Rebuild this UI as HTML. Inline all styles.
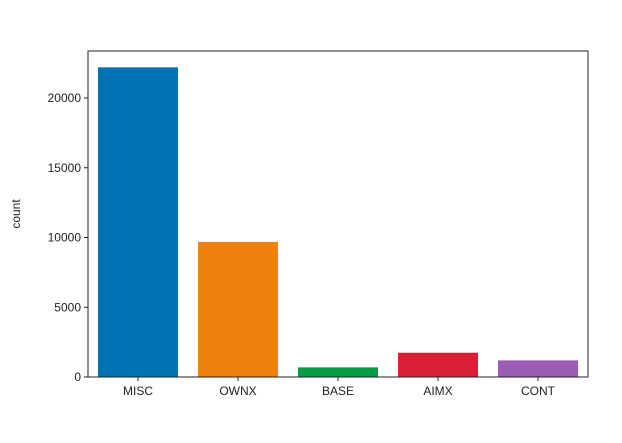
<!DOCTYPE html>
<html><head><meta charset="utf-8"><style>
body{margin:0;background:#fff;width:622px;height:438px;overflow:hidden}
text{font-family:"Liberation Sans",sans-serif;font-size:12px;fill:#222}
</style></head><body>
<svg id="chart" width="622" height="438" xmlns="http://www.w3.org/2000/svg"></svg>
<script>
const categories=["MISC","OWNX","BASE","AIMX","CONT"];
const counts=[22200,9680,690,1740,1190];
const colors=["#0072b2","#f0800f","#009e45","#d81f36","#9a5cb4"];
const yTicks=[0,5000,10000,15000,20000];
const svg=document.getElementById('chart');
const NS="http://www.w3.org/2000/svg";
const L=88,R=588,T=51,B=377;
const y=v=>B-v*(B-T)/23370;
const band=(R-L)/categories.length;
const x=i=>L+i*band;
function mk(t,a){const e=document.createElementNS(NS,t);for(const k in a)e.setAttribute(k,a[k]);svg.appendChild(e);return e;}
categories.forEach((c,i)=>{
 const b=mk('rect',{x:x(i)+10,y:y(counts[i]),width:band-20,height:B-y(counts[i]),fill:colors[i]});
 
 
 const tk=mk('line',{x1:x(i)+band/2,x2:x(i)+band/2,y1:B,y2:B+4,stroke:'#222'});
 
 
 const t=mk('text',{x:x(i)+band/2,y:B+18,'text-anchor':'middle'});t.textContent=c;
 
 
});
yTicks.forEach(v=>{
 const tk=mk('line',{x1:L-4,x2:L,y1:y(v),y2:y(v),stroke:'#222'});
 
 
 const t=mk('text',{x:L-7,y:y(v)+4,'text-anchor':'end'});t.textContent=v;
 
 
});
const fr=mk('rect',{x:L,y:T,width:R-L,height:B-T,fill:'none',stroke:'#222','stroke-width':1});


const yl=mk('text',{x:0,y:0,transform:`translate(20,${(T+B)/2}) rotate(-90)`,'text-anchor':'middle'});
yl.textContent='count';


</script>
</body></html>
